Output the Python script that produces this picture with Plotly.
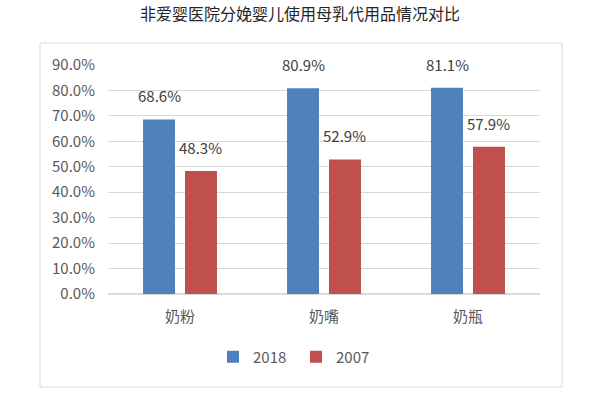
import plotly.graph_objects as go

categories = ["奶粉", "奶嘴", "奶瓶"]
series_names = ["2018", "2007"]
values_2018 = [0.686, 0.809, 0.811]
values_2007 = [0.483, 0.529, 0.579]
tick_vals = [0, 0.1, 0.2, 0.3, 0.4, 0.5, 0.6, 0.7, 0.8, 0.9]
tick_text = ["0.0%", "10.0%", "20.0%", "30.0%", "40.0%", "50.0%", "60.0%", "70.0%", "80.0%", "90.0%"]
title = "非爱婴医院分娩婴儿使用母乳代用品情况对比"

colors = ["#4F81BD", "#C0504D"]
font_fam = "Noto Sans CJK SC, Noto Sans, sans-serif"
W, H = 600, 406
L, R, T, B = 108, 60, 65, 112
pw, ph = W - L - R, H - T - B

fig = go.Figure()
for i, (name, vals, c) in enumerate(zip(series_names, [values_2018, values_2007], colors)):
    fig.add_trace(go.Bar(
        x=categories, y=vals, name=name, marker=dict(color=c, line=dict(width=0)),
        text=[f"{v*100:.1f}%" for v in vals], textposition="none",
        offsetgroup=str(i),
    ))

def px_x(p):
    return (p - L) / pw

def px_y(p):
    return (H - B - p) / ph

annotations = []
group_w = 1 - 0.417
slot = group_w / 2
for i, vals in enumerate([values_2018, values_2007]):
    for j, v in enumerate(vals):
        xpos = j - group_w / 2 + slot * (i + 0.5)
        annotations.append(dict(
            x=xpos, y=v, xref="x", yref="y", text=f"{v*100:.1f}%",
            showarrow=False, yanchor="bottom", yshift=11,
            font=dict(size=15, color="#404040", family=font_fam),
        ))

fig.update_layout(
    width=W, height=H,
    margin=dict(l=L, r=R, t=T, b=B),
    paper_bgcolor="white", plot_bgcolor="white",
    barmode="group", bargap=0.417, bargroupgap=0.238,
    title=dict(text=title, x=0.5, xanchor="center", y=1 - 14 / H, yanchor="middle",
               font=dict(size=16, color="#262626", family=font_fam)),
    font=dict(family=font_fam, color="#595959"),
    xaxis=dict(showline=False, ticks="", tickfont=dict(size=15, color="#595959"),
               showgrid=False, ticklabelstandoff=12),
    yaxis=dict(range=[0, 0.9], tickvals=tick_vals, ticktext=tick_text,
               showgrid=True, gridcolor="#D9D9D9", gridwidth=1, zeroline=True,
               zerolinecolor="#D9D9D9", tickfont=dict(size=15, color="#595959"),
               ticks="", ticklabelstandoff=12),
    legend=dict(orientation="h", x=px_x(296), xanchor="center", y=px_y(357), yanchor="middle",
                font=dict(size=15, color="#595959"), itemwidth=30,
                entrywidth=38, entrywidthmode="pixels"),
    annotations=annotations,
    shapes=[dict(type="rect", xref="paper", yref="paper",
                 x0=px_x(40), x1=px_x(562), y0=px_y(387), y1=px_y(43),
                 line=dict(color="#D9D9D9", width=1), layer="below")],
)
fig.write_html("out.html")
